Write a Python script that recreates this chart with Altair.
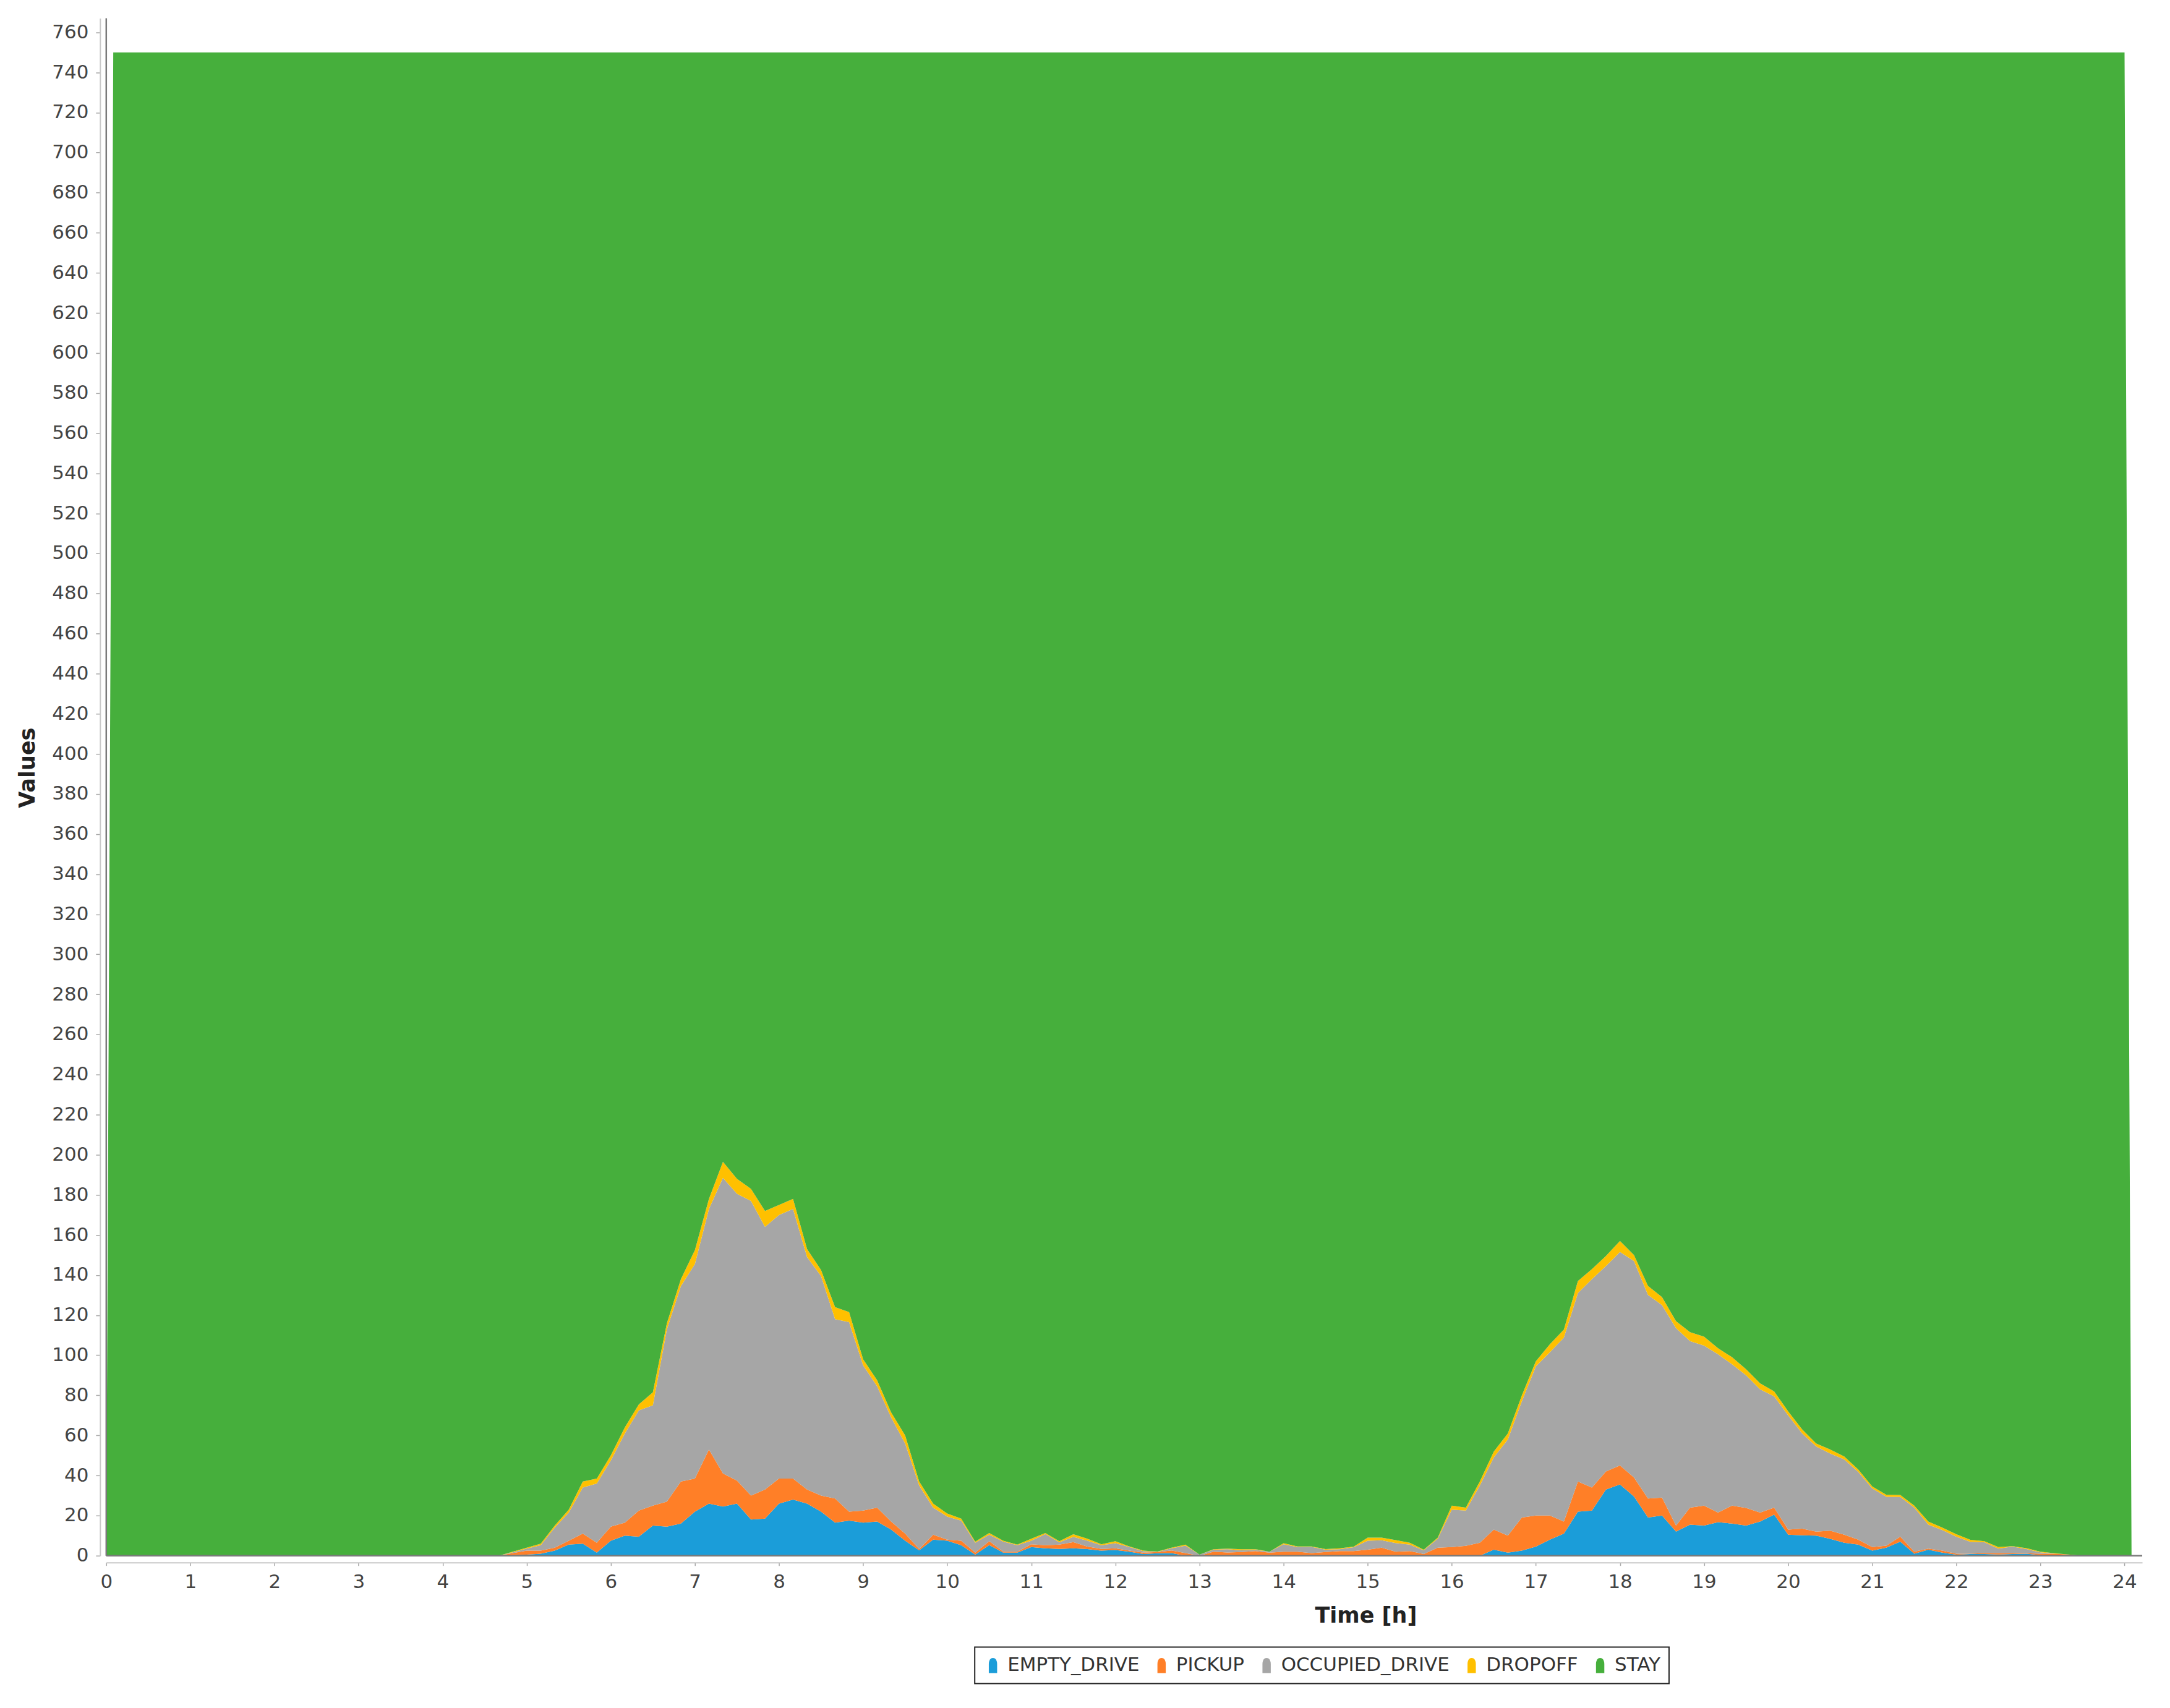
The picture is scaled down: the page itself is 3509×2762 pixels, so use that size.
import altair as alt
import pandas as pd

# ---------------- data ----------------
STATES = ["EMPTY_DRIVE", "PICKUP", "OCCUPIED_DRIVE", "DROPOFF", "STAY"]
COLORS = ["#1b9dd9", "#ff7f27", "#a6a6a6", "#ffc000", "#46af3c"]
FLEET_SIZE = 750

# active part of the day sampled every 10 minutes from 4.5 h to 23.5 h
ACTIVE_START_H = 4.5
STEP_H = 1 / 6

EMPTY_DRIVE = [
    0, 0, 0.3, 0.5, 1, 2.5, 5.5, 6, 1.5, 7.5,
    10, 9.5, 15, 14.5, 16, 22, 26, 24.5, 26, 18,
    18.5, 26, 28, 26, 22, 16.5, 17.5, 16.5, 17, 13,
    7.5, 2.7, 8, 7.5, 5.2, 0.5, 5.3, 1.5, 1.5, 4.3,
    3.7, 3.4, 3.7, 3.3, 2.5, 2.8, 2, 0.8, 1.2, 1.3,
    0, 0, 0, 0, 0, 0, 0, 0, 0, 0,
    0, 0, 0, 0, 0, 0, 0, 0, 0, 0,
    0, 0, 3, 1.5, 2.5, 4.5, 8, 11, 22, 22.5,
    33, 35.5, 29.5, 19, 20, 12, 15.5, 15, 16.7, 16,
    15, 17, 20.5, 10.5, 10.2, 10, 8.4, 6.5, 5.5, 2.5,
    4, 7, 1, 3, 1.5, 0.5, 0.8, 0.8, 0.6, 0.8,
    1, 0.3, 0, 0, 0,
]
PICKUP = [
    0, 0, 1.0, 2.0, 1.5, 1.5, 2, 5, 5, 7,
    6.5, 13, 10, 12.5, 21, 16.5, 27, 16.5, 11.5, 12,
    14.5, 12.5, 10.5, 7, 8, 12, 4.5, 6, 7, 4,
    3.5, 0.6, 2.5, 0.5, 2.3, 1, 1.9, 0.5, 0.5, 1.4,
    1.5, 2.1, 3.1, 1.2, 0.9, 0.9, 0.5, 0.7, 0.6, 1.3,
    1.3, 0, 2, 1.6, 1.8, 2.3, 1.5, 2, 2, 1.3,
    1.8, 2.3, 2.3, 3, 4, 2, 2.3, 0.8, 4, 4.3,
    4.9, 6.5, 10, 8.5, 16.5, 15.5, 12, 6, 15, 11.5,
    9, 9.5, 9.5, 9.5, 9, 3, 8.5, 10, 4.8, 9,
    8.8, 4.5, 3.5, 2.5, 3.3, 2, 4.1, 4, 2.5, 1.8,
    1, 2.5, 1, 0.5, 1, 0.5, 0.2, 0.5, 0.7, 0.5,
    0.2, 0.7, 1, 0.6, 0,
]
OCCUPIED_DRIVE = [
    0, 0, 0.4, 1, 2.7, 10, 14, 23, 29.5, 33,
    44.5, 50, 50, 86, 97.5, 107, 120, 147.5, 143, 147,
    131, 131.5, 134.5, 116, 109.5, 89.5, 94.5, 72.5, 60.5, 52,
    45, 31.7, 13.5, 11.5, 10, 5, 3.3, 5, 3.2, 1.8,
    5.6, 1.2, 2.6, 3, 1.8, 2.5, 1.8, 0.7, 0.1, 1.1,
    3.7, 0.5, 1, 1.6, 0.9, 0.6, 0.5, 3.7, 2.3, 3.1,
    1.2, 0.9, 1.9, 4.5, 3.7, 4.3, 3.2, 1.9, 4.5, 18.7,
    17.6, 28.5, 36, 48, 58, 74.5, 81.5, 91.8, 94, 104,
    102.5, 106.5, 108, 101.6, 96, 98.5, 83, 79.8, 79, 70.5,
    66.2, 61.5, 55.5, 57, 47.5, 42.5, 38.5, 37.5, 33.8, 29.2,
    24.4, 19.8, 22, 12, 10.3, 8.5, 5.9, 5.4, 2.2, 3.2,
    2.1, 0.7, 0, 0, 0,
]
DROPOFF = [
    0, 0, 0.3, 0.5, 0.8, 1, 1.5, 3, 2.5, 2.5,
    3, 3, 6.5, 3, 3.5, 7, 5, 8, 7.5, 6,
    8, 5, 5, 4, 3, 6, 5, 3, 3, 2.5,
    4, 2, 2, 1.5, 1, 0.5, 0.8, 0.5, 0.3, 1,
    0.5, 0.5, 1.3, 1, 0.5, 1, 0.3, 0.3, 0.2, 0.3,
    0.5, 0, 0.2, 0.3, 0.5, 0.3, 0, 0.5, 0.3, 0.2,
    0.3, 0.5, 0.3, 1.5, 1.3, 1.5, 1, 0.3, 0.5, 2,
    1.5, 2, 3, 3, 3, 2.5, 4, 4, 6, 5,
    5, 5.5, 3, 4.5, 4, 3.5, 4.5, 4.5, 3, 3.5,
    3, 3, 2.5, 2, 2, 1.5, 2, 1.5, 1.2, 1,
    1, 1, 1, 1.5, 1.2, 1.2, 1, 0.5, 0.8, 0.3,
    0.5, 0.3, 0.2, 0, 0,
]
# edge samples: at 0 h and 24 h + 5 min the fleet is not counted
EDGE_TIME_START = [0.0, 0.0833]
EDGE_TIME_END = [24.0, 24.0833]
STAY_EDGE_START = [0, 750]
STAY_EDGE_END = [750, 0]

# ---------------- table ----------------
n = len(EMPTY_DRIVE)
t_active = [round(ACTIVE_START_H + i * STEP_H, 4) for i in range(n)]
TIME_H = EDGE_TIME_START + t_active + EDGE_TIME_END

def pad(a):
    return [0, 0] + list(a) + [0, 0]

stay_active = [
    FLEET_SIZE - (EMPTY_DRIVE[i] + PICKUP[i] + OCCUPIED_DRIVE[i] + DROPOFF[i])
    for i in range(n)
]
series = {
    "EMPTY_DRIVE": pad(EMPTY_DRIVE),
    "PICKUP": pad(PICKUP),
    "OCCUPIED_DRIVE": pad(OCCUPIED_DRIVE),
    "DROPOFF": pad(DROPOFF),
    "STAY": STAY_EDGE_START + stay_active + STAY_EDGE_END,
}
rows = []
for si, s in enumerate(STATES):
    for t, v in zip(TIME_H, series[s]):
        rows.append({"t": t, "state": s, "value": v, "ord": si})
df = pd.DataFrame(rows)

# ---------------- chart ----------------
W, H = 3296, 2489
FONT = "DejaVu Sans"
SYMBOL = "M-0.55,1 L-0.55,-0.2 C-0.55,-0.75 -0.25,-1 0,-1 C0.25,-1 0.55,-0.75 0.55,-0.2 L0.55,1 Z"

x_axis = alt.Axis(
    values=list(range(25)), format="d", title="Time [h]", offset=11,
    domainColor="#c8c8c8", domainWidth=2, tickColor="#a8a8a8", tickSize=5, tickWidth=1.5,
    labelFont=FONT, labelFontSize=31, labelColor="#444444", labelPadding=12,
    labelFlush=False, labelOverlap=False, grid=False,
    titleFont=FONT, titleFontSize=35, titleFontWeight="bold", titleColor="#222222",
    titleX=2039, titleY=86, titleBaseline="middle", titleAlign="center",
)
y_axis = alt.Axis(
    values=list(range(0, 761, 20)), format="d", title="Values", offset=10,
    domainColor="#c8c8c8", domainWidth=2, tickColor="#a8a8a8", tickSize=7, tickWidth=1.5,
    labelFont=FONT, labelFontSize=31, labelColor="#444444", labelPadding=12,
    labelFlush=False, labelOverlap=False, grid=False,
    titleFont=FONT, titleFontSize=35, titleFontWeight="bold", titleColor="#222222",
    titleAngle=270, titleX=-117, titleY=1213, titleBaseline="middle", titleAlign="center",
)
legend = alt.Legend(
    title=None, orient="none", legendX=1406, legendY=2637, direction="horizontal",
    columns=5, symbolType=SYMBOL, symbolSize=600, symbolStrokeWidth=0, symbolOpacity=1,
    labelFont=FONT, labelFontSize=31, labelColor="#333333", labelOffset=8,
    labelLimit=500, columnPadding=20, padding=14,
    strokeColor="#222222", fillColor="#ffffff",
)

area = alt.Chart(df).mark_area(interpolate="linear").encode(
    x=alt.X("t:Q", scale=alt.Scale(domain=[0, 24.21], nice=False, zero=False), axis=x_axis),
    y=alt.Y("value:Q", stack="zero", scale=alt.Scale(domain=[0, 767], nice=False), axis=y_axis),
    color=alt.Color("state:N", scale=alt.Scale(domain=STATES, range=COLORS), legend=legend),
    order=alt.Order("ord:Q"),
)

one = pd.DataFrame({"k": [0]})
left_border = alt.Chart(one).mark_rule(color="#7a7a7a", strokeWidth=2.5).encode(
    x=alt.value(0), y=alt.value(0), y2=alt.value(H)
)
bottom_border = alt.Chart(one).mark_rule(color="#7a7a7a", strokeWidth=2.5).encode(
    x=alt.value(0), x2=alt.value(W), y=alt.value(H)
)

chart = (
    alt.layer(area, left_border, bottom_border)
    .properties(
        width=W, height=H,
        autosize=alt.AutoSizeParams(type="none"),
        padding={"left": 164, "top": 20, "right": 37, "bottom": 225},
        background="white",
    )
    .configure_view(stroke=None)
    .configure_legend(strokeWidth=2)
)

chart.save("out.html", embed_options={"renderer": "svg", "actions": False})
